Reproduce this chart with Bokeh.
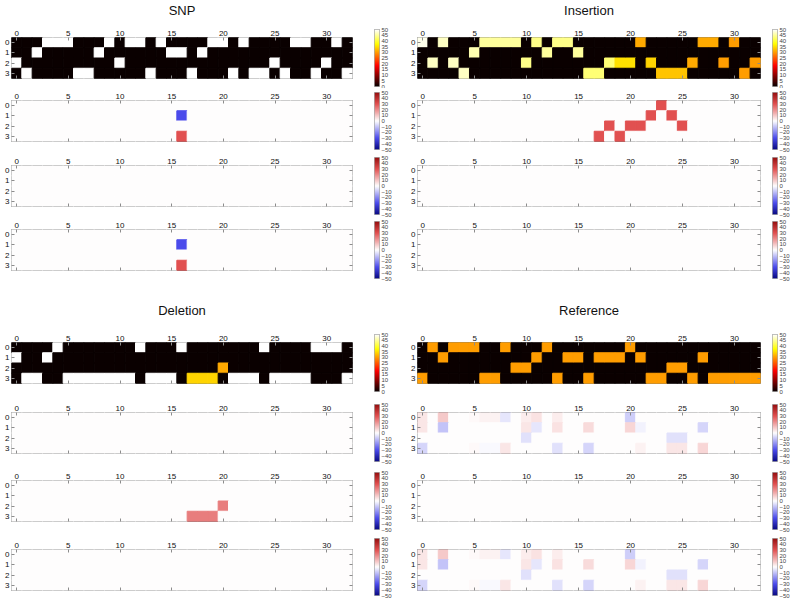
import numpy as np
from bokeh.plotting import figure
from bokeh.models import Range1d, LinearAxis, FixedTicker, LinearColorMapper, ColumnDataSource
from bokeh.layouts import row, column
from bokeh.embed import file_html
from bokeh.resources import INLINE

FONT = "Liberation Sans"

# ---------------- data ----------------
positions = list(range(33))
bases = [0, 1, 2, 3]
x_ticks = [0, 5, 10, 15, 20, 25, 30]
hot_ticks = [0, 5, 10, 15, 20, 25, 30, 35, 40, 45, 50]
div_ticks = [-50, -40, -30, -20, -10, 0, 10, 20, 30, 40, 50]

ZERO_ROW = [0, 0, 0, 0, 0, 0, 0, 0, 0, 0, 0, 0, 0, 0, 0, 0, 0, 0, 0, 0, 0, 0, 0, 0, 0, 0, 0, 0, 0, 0, 0, 0, 0]
empty_map = [ZERO_ROW, ZERO_ROW, ZERO_ROW, ZERO_ROW]

snp_seq = [
    [0,0,0,50,50,50,0,0,0,50, 0,50,50,0,50,0,0,0,0,50, 50,0,50,0,0,0,0,50,50,0, 0,50,0],
    [0,0,50,0,0,0,0,0,50,0, 0,0,0,0,0,50,50,0,50,0, 0,0,0,0,0,0,0,0,0,0, 0,0,0],
    [50,0,0,0,0,0,0,0,0,0, 50,0,0,0,0,0,0,0,0,0, 0,0,0,0,0,50,0,0,0,0, 50,0,0],
    [0,50,0,0,0,0,50,50,0,0, 0,0,0,50,0,0,0,50,0,0, 0,50,0,50,50,0,50,0,0,50, 0,0,50],
]
snp_attr = [
    ZERO_ROW,
    [0,0,0,0,0,0,0,0,0,0, 0,0,0,0,0,0,-30,0,0,0, 0,0,0,0,0,0,0,0,0,0, 0,0,0],
    ZERO_ROW,
    [0,0,0,0,0,0,0,0,0,0, 0,0,0,0,0,0,30,0,0,0, 0,0,0,0,0,0,0,0,0,0, 0,0,0],
]

ins_seq = [
    [49,0,47,0,0,0,45,45,45,45, 0,44,0,44,44,0,0,0,0,0, 0,31,0,0,0,0,0,31,31,0, 30,0,0],
    [0,0,0,0,0,46,0,0,0,0, 0,0,45,0,0,45,0,0,0,0, 0,0,0,0,0,0,0,0,0,0, 0,0,0],
    [0,47,0,47,0,0,0,0,0,0, 44,0,0,0,0,0,0,0,43,35, 35,0,34,0,0,0,31,0,0,30, 0,0,30],
    [0,0,0,0,47,0,0,0,0,0, 0,0,0,0,0,0,43,43,0,0, 0,0,0,33,33,33,0,0,0,0, 0,30,0],
]
ins_attr = [
    [0,0,0,0,0,0,0,0,0,0, 0,0,0,0,0,0,0,0,0,0, 0,0,0,30,0,0,0,0,0,0, 0,0,0],
    [0,0,0,0,0,0,0,0,0,0, 0,0,0,0,0,0,0,0,0,0, 0,0,30,0,30,0,0,0,0,0, 0,0,0],
    [0,0,0,0,0,0,0,0,0,0, 0,0,0,0,0,0,0,0,30,0, 30,30,0,0,0,30,0,0,0,0, 0,0,0],
    [0,0,0,0,0,0,0,0,0,0, 0,0,0,0,0,0,0,30,0,30, 0,0,0,0,0,0,0,0,0,0, 0,0,0],
]

del_seq = [
    [0,0,0,0,50,0,0,0,0,0, 0,0,50,0,0,0,50,0,0,0, 0,0,0,0,50,0,0,0,0,50, 50,50,0],
    [50,0,0,50,0,0,0,0,0,0, 0,0,0,0,0,0,0,0,0,0, 0,0,0,0,0,0,0,0,0,0, 0,0,0],
    [0,0,0,0,0,0,0,0,0,0, 0,0,0,0,0,0,0,0,0,0, 31,0,0,0,0,0,0,0,0,0, 0,0,0],
    [0,50,50,0,0,50,50,50,50,50, 50,50,0,50,50,50,0,34,34,34, 0,50,50,50,0,50,50,50,50,0, 0,0,50],
]
del_attr = [
    ZERO_ROW,
    ZERO_ROW,
    [0,0,0,0,0,0,0,0,0,0, 0,0,0,0,0,0,0,0,0,0, 22,0,0,0,0,0,0,0,0,0, 0,0,0],
    [0,0,0,0,0,0,0,0,0,0, 0,0,0,0,0,0,0,22,22,22, 0,0,0,0,0,0,0,0,0,0, 0,0,0],
]

ref_seq = [
    [0,30,0,30,30,30,0,0,30,0, 0,0,30,0,0,0,0,0,0,0, 30,0,0,0,0,0,0,0,0,0, 0,0,0],
    [0,0,30,0,0,0,0,0,0,0, 0,30,0,0,30,30,0,30,30,30, 0,30,0,0,0,0,0,30,0,0, 0,0,0],
    [0,0,0,0,0,0,0,0,0,30, 30,0,0,0,0,0,0,0,0,0, 0,0,0,0,30,30,0,0,0,0, 0,0,0],
    [30,0,0,0,0,0,30,30,0,0, 0,0,0,30,0,0,30,0,0,0, 0,0,30,30,0,0,30,0,30,30, 30,30,30],
]
ref_attr = [
    [4,0,9,0,0,1,2,2,-4,0, 3,5,0,3,0,0,0,0,0,0, -8,0,0,0,0,0,0,0,0,0, 0,0,0],
    [4,0,-10,0,0,0,0,0,0,0, 4,-4,0,5,0,0,6,0,0,0, 7,-2,0,0,0,0,0,-7,0,0, 0,0,0],
    [0,0,0,0,0,0,0,0,0,0, -5,0,0,0,0,0,0,0,0,0, 0,0,0,0,-5,-5,0,0,0,0, 0,0,0],
    [-7,0,0,0,0,1,-1,-1,4,0, 0,0,0,-5,0,0,-7,0,0,0, 0,2,0,0,4,4,0,7,0,0, 0,0,0],
]

panels = [
    ("SNP", [snp_seq, snp_attr, empty_map, snp_attr]),
    ("Insertion", [ins_seq, ins_attr, empty_map, empty_map]),
    ("Deletion", [del_seq, empty_map, del_attr, empty_map]),
    ("Reference", [ref_seq, ref_attr, empty_map, ref_attr]),
]

for _, mats in panels:
    for m in mats:
        assert len(m) == 4 and all(len(r) == 33 for r in m)

# ---------------- colour maps ----------------
def hot_palette(n=256):
    out = []
    for i in range(n):
        x = i / (n - 1)
        r = 0.0416 + (1 - 0.0416) * min(1.0, x / 0.365079)
        g = min(1.0, max(0.0, (x - 0.365079) / (0.746032 - 0.365079)))
        b = min(1.0, max(0.0, (x - 0.746032) / (1 - 0.746032)))
        out.append("#%02x%02x%02x" % (int(r * 255), int(g * 255), int(b * 255)))
    return out

def div_palette(n=256):
    t = np.array([0.0, 0.2, 0.5, 0.8, 1.0])
    rr = np.array([10, 75, 255, 225, 150])
    gg = np.array([10, 75, 255, 80, 15])
    bb = np.array([130, 235, 255, 80, 15])
    xs = np.linspace(0, 1, n)
    r = np.interp(xs, t, rr); g = np.interp(xs, t, gg); b = np.interp(xs, t, bb)
    return ["#%02x%02x%02x" % (int(a), int(c), int(d)) for a, c, d in zip(r, g, b)]

HOT = LinearColorMapper(palette=hot_palette(), low=0, high=50)
DIV = LinearColorMapper(palette=div_palette(), low=-50, high=50)

# ---------------- geometry ----------------
FH = 41
CBH = 57
TITLE_H = 20
left_geo = dict(Lb=11, FW=341, Rb=20, cbL=2, cbR=21)
right_geo = dict(Lb=17, FW=343, Rb=10, cbL=2, cbR=15)
top_heat = [(17, 7), (15, 9), (15, 8), (15, 30)]
bot_heat = [(22, 14), (15, 12), (15, 13), (15, 8)]
top_cb = [(29, 2), (4, 4), (4, 3), (4, 22)]
bot_cb = [(34, 9), (4, 7), (4, 5), (4, 3)]

TICK_COL = "#8c8c8c"
LAB_COL = "#111111"

def style_axis(ax, ticks, labels=True):
    ax.ticker = FixedTicker(ticks=ticks)
    ax.axis_line_color = None
    ax.major_tick_in = 3
    ax.major_tick_out = 0
    ax.major_tick_line_color = TICK_COL
    ax.minor_tick_line_color = None
    if labels:
        ax.major_label_text_font = FONT
        ax.major_label_text_font_size = "8px"
        ax.major_label_text_color = LAB_COL
        ax.major_label_standoff = 2
    else:
        ax.major_label_text_font_size = "0px"
        ax.major_label_text_alpha = 0
        ax.major_label_standoff = 0

def title_fig(text, geo):
    p = figure(width=geo["Lb"] + geo["FW"] + geo["Rb"], height=TITLE_H,
               x_range=Range1d(0, 1), y_range=Range1d(0, 1),
               x_axis_location=None, y_axis_location=None,
               toolbar_location=None, output_backend="svg",
               min_border_left=geo["Lb"], min_border_right=geo["Rb"],
               min_border_top=0, min_border_bottom=0, title=text)
    p.grid.visible = False
    p.outline_line_color = None
    p.title.align = "center"
    p.title.text_font = FONT
    p.title.text_font_size = "13px"
    p.title.text_font_style = "normal"
    p.title.text_color = "#111111"
    p.title.standoff = 0
    p.title.offset = 0
    return p

def heat_fig(mat, mapper, geo, tb, bb):
    xs, ys, vs = [], [], []
    for r, rowvals in enumerate(mat):
        for c, v in enumerate(rowvals):
            xs.append(positions[c]); ys.append(bases[r]); vs.append(v)
    src = ColumnDataSource(dict(x=xs, y=ys, v=vs))
    p = figure(width=geo["Lb"] + geo["FW"] + geo["Rb"], height=tb + FH + bb,
               x_range=Range1d(-0.5, 32.5), y_range=Range1d(3.5, -0.5),
               x_axis_location="above", toolbar_location=None, output_backend="svg",
               min_border_left=geo["Lb"], min_border_right=geo["Rb"],
               min_border_top=tb, min_border_bottom=bb)
    cm = {"field": "v", "transform": mapper}
    p.rect("x", "y", 1, 1, source=src, fill_color=cm, line_color=cm, line_width=1)
    p.grid.visible = False
    style_axis(p.xaxis[0], x_ticks)
    style_axis(p.yaxis[0], bases)
    bax = LinearAxis(); style_axis(bax, x_ticks, labels=False)
    rax = LinearAxis(); style_axis(rax, bases, labels=False)
    p.add_layout(bax, "below")
    p.add_layout(rax, "right")
    p.outline_line_color = "#7a7a7a"
    p.outline_line_width = 1
    p.background_fill_color = "white"
    p.border_fill_color = "white"
    return p

def cbar_fig(mapper, ticks, geo, tb, bb):
    lo, hi = mapper.low, mapper.high
    p = figure(width=geo["cbL"] + 5 + geo["cbR"], height=tb + CBH + bb,
               x_range=Range1d(0, 1), y_range=Range1d(lo, hi),
               x_axis_location=None, y_axis_location="right",
               toolbar_location=None, output_backend="svg",
               min_border_left=geo["cbL"], min_border_right=geo["cbR"],
               min_border_top=tb, min_border_bottom=bb)
    grad = np.linspace(lo, hi, 256).reshape(256, 1)
    p.image(image=[grad], x=0, y=lo, dw=1, dh=hi - lo, color_mapper=mapper)
    p.grid.visible = False
    ax = p.yaxis[0]
    ax.ticker = FixedTicker(ticks=ticks)
    ax.axis_line_color = None
    ax.major_tick_in = 0
    ax.major_tick_out = 0
    ax.minor_tick_line_color = None
    ax.major_label_text_font = FONT
    ax.major_label_text_font_size = "6px"
    ax.major_label_text_color = "#444444"
    ax.major_label_standoff = 2
    ax.major_label_overrides = {t: ("\u2212%d" % -t if t < 0 else str(t)) for t in ticks}
    p.outline_line_color = "#555555"
    p.outline_line_width = 0.5
    return p

def panel(title, mats, geo, heat_geo, cb_geo):
    hfs, cfs = [title_fig(title, geo)], []
    for i, m in enumerate(mats):
        mapper = HOT if i == 0 else DIV
        ticks = hot_ticks if i == 0 else div_ticks
        tb, bb = heat_geo[i]
        hfs.append(heat_fig(m, mapper, geo, tb, bb))
        ctb, cbb = cb_geo[i]
        cfs.append(cbar_fig(mapper, ticks, geo, ctb, cbb))
    return row(column(*hfs), column(*cfs))

top = row(panel(panels[0][0], panels[0][1], left_geo, top_heat, top_cb),
          panel(panels[1][0], panels[1][1], right_geo, top_heat, top_cb))
bottom = row(panel(panels[2][0], panels[2][1], left_geo, bot_heat, bot_cb),
             panel(panels[3][0], panels[3][1], right_geo, bot_heat, bot_cb))
layout = column(top, bottom)

open("out.html", "w").write(file_html(layout, INLINE))
